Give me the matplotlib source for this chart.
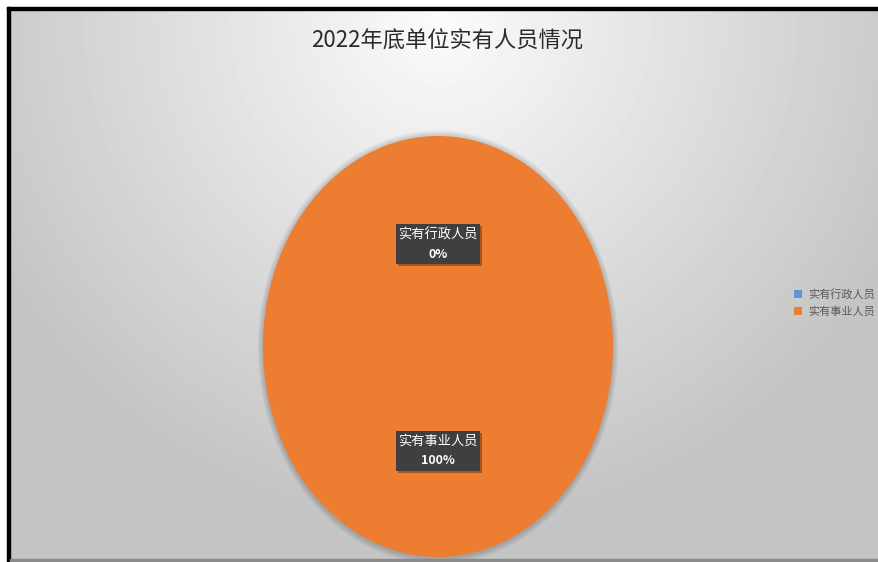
import numpy as np
import matplotlib
matplotlib.use('Agg')
import matplotlib.pyplot as plt
from matplotlib.patches import Rectangle, Ellipse
from matplotlib.transforms import ScaledTranslation

plt.rcParams['font.family'] = ['Noto Sans CJK SC', 'DejaVu Sans']

# données du graphique
categories = ['实有行政人员', '实有事业人员']
valeurs = [0, 100]
pourcentages = ['0%', '100%']
couleurs = ['#5B9BD5', '#ED7D31']
titre = '2022年底单位实有人员情况'

W, H = 879, 562
fig = plt.figure(figsize=(W / 100, H / 100), dpi=100)
fig.patch.set_facecolor('white')

# fond en dégradé radial (blanc en haut au centre, gris sur les bords)
bg = fig.add_axes([10 / W, 0, 1 - 10 / W, 1 - 10 / H])
yy, xx = np.mgrid[0:552, 0:869]
d = np.hypot((xx - 430) / 560, (yy - 10) / 560)
g = np.clip(0.985 - 0.24 * d, 0.77, 1)
bg.imshow(g, cmap='gray', vmin=0, vmax=1, aspect='auto', interpolation='bilinear')
bg.axis('off')

# cadre noir (haut et gauche) + ligne grise en bas
fig.add_artist(Rectangle((7 / W, 0), 3 / W, 1 - 7 / H, transform=fig.transFigure,
                         color='black', zorder=5))
fig.add_artist(Rectangle((7 / W, 1 - 10 / H), 1, 3 / H, transform=fig.transFigure,
                         color='black', zorder=5))
fig.add_artist(Rectangle((10 / W, 0), 1, 3 / H, transform=fig.transFigure,
                         color='#8a8a8a', zorder=5))

# camembert (ellipse étirée)
ax = fig.add_axes([263 / W, 5 / H, 350 / W, 421 / H])
ax.patch.set_alpha(0)
for k in range(5):
    s = 2.0 + 0.012 * (k + 1)
    ax.add_patch(Ellipse((0.0, -0.004), s, s, color='black', alpha=0.035, lw=0,
                         zorder=0, clip_on=False))
wedges, _ = ax.pie(valeurs, colors=couleurs, startangle=90, counterclock=False,
                   radius=1, wedgeprops=dict(linewidth=0))
for w in wedges:
    w.set_zorder(2)
    w.set_clip_on(False)
ax.set_aspect('auto')
ax.set_xlim(-1, 1)
ax.set_ylim(-1, 1)
ax.axis('off')

# étiquettes de données (boîte sombre avec ombre)
for w, nom, pct in zip(wedges, categories, pourcentages):
    t = np.deg2rad((w.theta1 + w.theta2) / 2)
    x, y = 0.5 * np.cos(t), 0.49 * np.sin(t)
    trans = fig.dpi_scale_trans + ScaledTranslation(x, y, ax.transData)
    ax.add_patch(Rectangle((-0.40, -0.23), 0.84, 0.40, transform=trans,
                           fc='black', alpha=0.3, lw=0, zorder=3, clip_on=False))
    ax.add_patch(Rectangle((-0.42, -0.21), 0.84, 0.40, transform=trans,
                           fc='#3f3f3f', lw=0, zorder=4, clip_on=False))
    ax.annotate(nom, (x, y), xytext=(0, 6), textcoords='offset points',
                ha='center', va='center', fontsize=9.5, color='white', zorder=5)
    ax.annotate(pct, (x, y), xytext=(0, -8), textcoords='offset points',
                ha='center', va='center', fontsize=9, color='white',
                fontweight='bold', zorder=5)

# légende
fig.legend(wedges, categories, loc='center left', bbox_to_anchor=(784 / W, 1 - 303 / H),
           frameon=False, fontsize=8, handlelength=0.75, handleheight=0.75,
           handletextpad=0.5, labelspacing=0.6, labelcolor='#595959')

# titre
fig.text(447 / W, 1 - 41 / H, titre, ha='center', va='center', fontsize=16,
         color='#2b2b2b')

fig.savefig('out.png', dpi=100)
